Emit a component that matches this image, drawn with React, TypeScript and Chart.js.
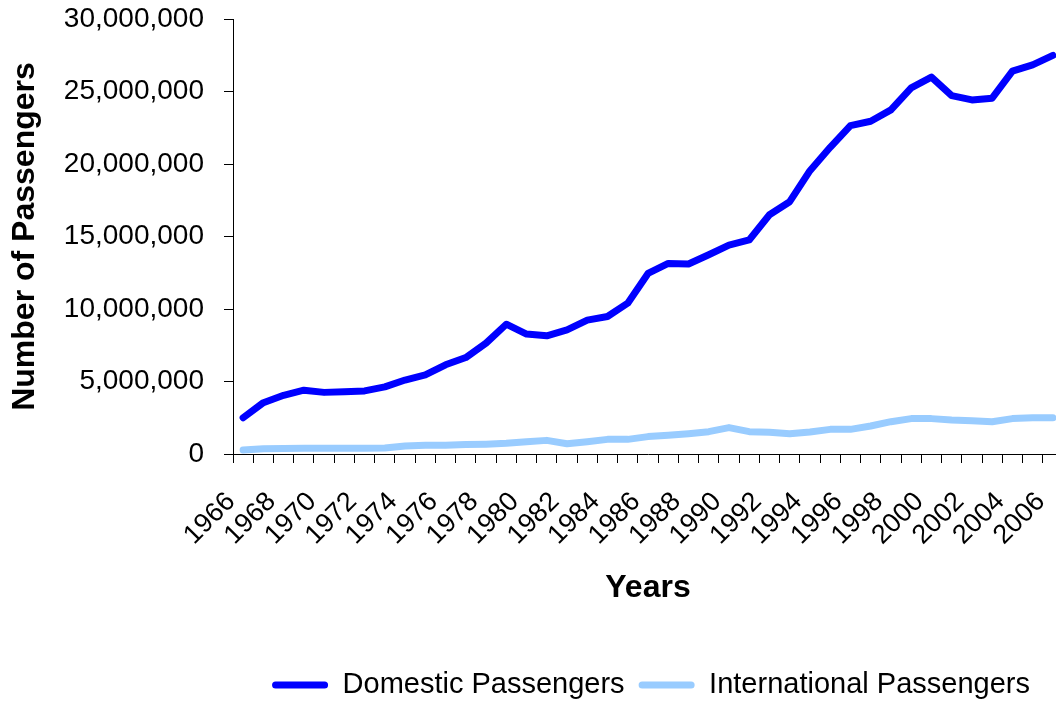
import React, { useEffect, useRef } from "react";
import { Chart, registerables } from "chart.js";

Chart.register(...registerables);

const years: string[] = [
  "1966", "1967", "1968", "1969", "1970", "1971", "1972", "1973", "1974", "1975",
  "1976", "1977", "1978", "1979", "1980", "1981", "1982", "1983", "1984", "1985",
  "1986", "1987", "1988", "1989", "1990", "1991", "1992", "1993", "1994", "1995",
  "1996", "1997", "1998", "1999", "2000", "2001", "2002", "2003", "2004", "2005",
  "2006",
];

const domesticPassengers: number[] = [
  2500000, 3540000, 4050000, 4400000, 4250000, 4300000, 4350000, 4630000, 5100000, 5450000,
  6150000, 6650000, 7650000, 8950000, 8270000, 8150000, 8560000, 9230000, 9480000, 10400000,
  12450000, 13140000, 13100000, 13740000, 14410000, 14760000, 16500000, 17400000, 19540000, 21150000,
  22650000, 22950000, 23730000, 25250000, 25990000, 24720000, 24420000, 24540000, 26400000, 26840000,
  27490000,
];

const internationalPassengers: number[] = [
  280000, 370000, 380000, 390000, 400000, 400000, 400000, 420000, 550000, 600000,
  600000, 650000, 680000, 740000, 850000, 940000, 710000, 850000, 1010000, 1010000,
  1200000, 1290000, 1400000, 1540000, 1820000, 1540000, 1500000, 1400000, 1520000, 1700000,
  1700000, 1930000, 2230000, 2440000, 2440000, 2350000, 2300000, 2230000, 2440000, 2500000,
  2500000,
];

const seriesNames: string[] = ["Domestic Passengers", "International Passengers"];
const seriesColors: string[] = ["#0000FF", "#99CCFF"];

const yMin = 0;
const yMax = 30000000;
const yStep = 5000000;

const FONT = "'Liberation Sans', Arial, Helvetica, sans-serif";

const legendShift = {
  id: "legendShift",
  afterLayout(chart: any) {
    const l = chart.legend;
    if (l) {
      l.left += 3;
      l.right += 3;
    }
  },
};

export default function App() {
  const canvasRef = useRef<HTMLCanvasElement | null>(null);

  useEffect(() => {
    if (!canvasRef.current) return;
    Chart.defaults.color = "#000";
    Chart.defaults.font.family = FONT;

    const chart = new Chart(canvasRef.current, {
      type: "line",
      data: {
        labels: years,
        datasets: [
          {
            label: seriesNames[0],
            data: domesticPassengers,
            borderColor: seriesColors[0],
            backgroundColor: seriesColors[0],
            borderWidth: 7,
            pointRadius: 0,
            tension: 0,
            borderJoinStyle: "round",
            borderCapStyle: "round",
          },
          {
            label: seriesNames[1],
            data: internationalPassengers,
            borderColor: seriesColors[1],
            backgroundColor: seriesColors[1],
            borderWidth: 7,
            pointRadius: 0,
            tension: 0,
            borderJoinStyle: "round",
            borderCapStyle: "round",
          },
        ],
      },
      plugins: [legendShift],
      options: {
        animation: false,
        responsive: true,
        maintainAspectRatio: false,
        events: [],
        layout: {
          padding: { top: 19, left: 0, right: 17, bottom: 2.5 },
        },
        plugins: {
          tooltip: { enabled: false },
          legend: {
            position: "bottom",
            fullSize: false,
            labels: {
              font: { size: 29, family: FONT },
              color: "#000",
              boxWidth: 56,
              boxHeight: 7,
              padding: 14,
              generateLabels: (c: any) =>
                c.data.datasets.map((ds: any, i: number) => ({
                  text: ds.label,
                  fillStyle: ds.borderColor,
                  strokeStyle: ds.borderColor,
                  lineWidth: 0,
                  borderRadius: 3.5,
                  hidden: false,
                  datasetIndex: i,
                  fontColor: "#000",
                })),
            },
          },
        },
        scales: {
          x: {
            type: "category",
            offset: true,
            afterFit: (s: any) => {
              s.height = 202.5;
            },
            grid: {
              offset: true,
              drawOnChartArea: false,
              drawTicks: true,
              tickLength: 9,
              color: "#000",
            },
            border: { color: "#000", width: 1 },
            ticks: {
              autoSkip: false,
              maxRotation: 45,
              minRotation: 45,
              padding: 23,
              labelOffset: -12,
              font: { size: 27, family: FONT },
              color: "#000",
              callback: (_v: any, i: number) => (i % 2 === 0 ? years[i] : ""),
            },
            title: {
              display: true,
              text: "Years",
              font: { size: 32, weight: "bold", family: FONT },
              color: "#000",
              padding: { top: 0, bottom: 49.3 },
            },
          },
          y: {
            min: yMin,
            max: yMax,
            afterFit: (s: any) => {
              s.width = 233;
              s.paddingTop = 0;
              s.paddingBottom = 0;
            },
            grid: {
              drawOnChartArea: false,
              drawTicks: true,
              tickLength: 9,
              color: "#000",
            },
            border: { color: "#000", width: 1 },
            ticks: {
              stepSize: yStep,
              padding: 20,
              font: { size: 28, family: FONT },
              color: "#000",
              callback: (v: any) => Number(v).toLocaleString("en-US"),
            },
            title: {
              display: true,
              text: "Number of Passengers",
              font: { size: 32, weight: "bold", family: FONT },
              color: "#000",
              padding: { top: 6, bottom: 0 },
            },
          },
        },
      },
    });
    return () => chart.destroy();
  }, []);

  return (
    <div
      style={{
        position: "fixed",
        left: 0,
        top: 0,
        width: 1056,
        height: 702,
        overflow: "hidden",
        background: "#fff",
      }}
    >
      <div style={{ position: "relative", width: 1099, height: 712 }}>
        <canvas ref={canvasRef} />
      </div>
    </div>
  );
}
